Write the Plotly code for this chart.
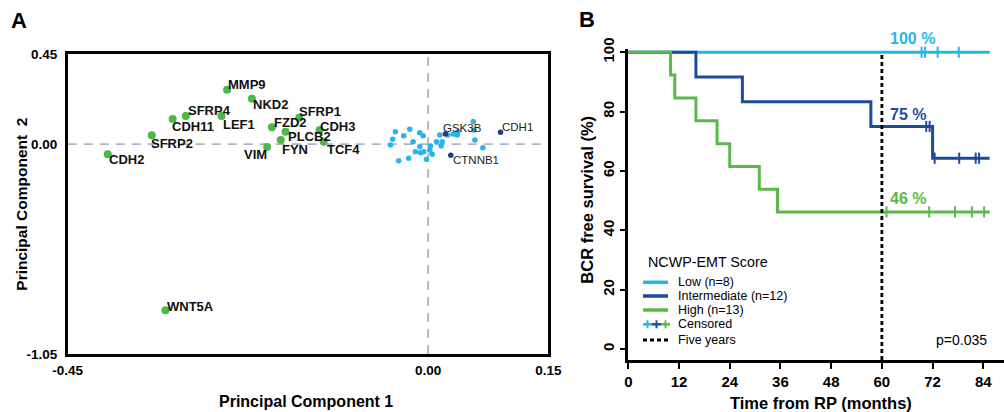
import plotly.graph_objects as go

# ---------------- Panel A data (PCA loadings) ----------------
green_genes = ["MMP9", "NKD2", "SFRP4", "CDH11", "LEF1", "SFRP2", "CDH2", "FZD2",
               "SFRP1", "PLCB2", "CDH3", "FYN", "TCF4", "VIM", "WNT5A"]
green_pc1 = [-0.251, -0.220, -0.3025, -0.319, -0.258, -0.345, -0.400, -0.195,
             -0.161, -0.178, -0.1355, -0.184, -0.1305, -0.201, -0.328]
green_pc2 = [0.273, 0.228, 0.141, 0.126, 0.141, 0.0445, -0.0506, 0.0846,
             0.1326, 0.0626, 0.071, 0.021, 0.0125, -0.014, -0.831]

light_pc1 = [-0.0409, -0.0305, -0.0230, -0.0105, -0.0063, -0.0443, -0.0471, -0.0188,
             -0.0105, 0.0029, 0.0104, 0.0145, 0.0175, 0.0163, 0.0313, 0.0363,
             0.0370, 0.0570, 0.0563, 0.0583, 0.0683, -0.0159, -0.0096, -0.0055,
             0.0020, -0.0243, -0.0368, -0.0021, 0.0050, 0.0245]
light_pc2 = [0.0626, 0.0425, 0.0746, 0.0576, 0.0425, 0.0245, -0.0040, 0.0125,
             -0.0125, -0.0090, 0.0125, 0.0460, 0.0125, -0.0090, 0.0511, 0.0460,
             0.0626, 0.0711, 0.1136, 0.0210, -0.0175, -0.0375, -0.0425, -0.0375,
             -0.0290, -0.0706, -0.0826, -0.0756, -0.0506, 0.0460]

dark_genes = ["GSK3B", "CDH1", "CTNNB1"]
dark_pc1 = [0.0216, 0.0904, 0.0283]
dark_pc2 = [0.051, 0.0596, -0.0556]

pca_xticks = [-0.45, 0.0, 0.15]
pca_xticklabels = ["-0.45", "0.00", "0.15"]
pca_yticks = [-1.05, 0.0, 0.45]
pca_yticklabels = ["-1.05", "0.00", "0.45"]

# ---------------- Panel B data (Kaplan-Meier) ----------------
low_t = [0, 85.5]
low_s = [100, 100]
low_cens = [69.4, 70.2, 73.2, 78.2]

int_t = [0, 16, 27, 57.4, 72, 85.5]
int_s = [100, 91.7, 83.3, 75, 64.3, 64.3]
int_cens = [70.5, 71.3, 72.5, 78.3, 82.2, 83.0]

high_t = [0, 10, 11, 16, 21, 24, 31, 35.3, 85.5]
high_s = [100, 92.3, 84.6, 76.9, 69.2, 61.5, 53.8, 46.2, 46.2]
high_cens = [61.1, 71.2, 77.3, 81.3, 84.2]

km_xticks = [0, 12, 24, 36, 48, 60, 72, 84]
km_yticks = [0, 20, 40, 60, 80, 100]
five_year = 60
five_year_labels = ["100 %", "75 %", "46 %"]

# ---------------- styles ----------------
FONT = "Liberation Sans, Arial, Helvetica, sans-serif"
C_LIGHT = "#25B5EC"
C_DARK = "#1E4C9C"
C_GREEN = "#5BB94B"
C_GREEN_DOT = "#4DB848"
C_DASH = "#A9B6C2"

W, H = 1004, 412

# label placement (pixel shifts relative to each point)
green_dx = [0, 0, 1, -2, 1, -2, 0, 1, -1, 1, -1, 0, 2, 1, 1]
green_dy = [5.5, -5.5, 6, -7.5, -8, -8, -5.5, 4.5, 6.5, -5, 3.5, -9, -8, -7.5, 3.5]
green_anchor = ["left"] * 13 + ["right", "left"]
dark_dx = [-3, 0, 1]
dark_dy = [6, 5, -5]


def px(x):
    return x / W


def py(y):
    return 1 - y / H


def surv_at(t, times, surv):
    v = surv[0]
    for ti, si in zip(times, surv):
        if ti <= t:
            v = si
    return v


fig = go.Figure()

# Panel A traces
fig.add_trace(go.Scatter(
    x=light_pc1, y=light_pc2, mode="markers", xaxis="x", yaxis="y",
    marker=dict(size=5.5, color=C_LIGHT), hoverinfo="skip"))
fig.add_trace(go.Scatter(
    x=dark_pc1, y=dark_pc2, mode="markers", xaxis="x", yaxis="y",
    marker=dict(size=5.5, color="#1F3C8F"), hoverinfo="skip"))
fig.add_trace(go.Scatter(
    x=green_pc1, y=green_pc2, mode="markers", xaxis="x", yaxis="y",
    marker=dict(size=8, color=C_GREEN_DOT), hoverinfo="skip"))

# Panel B traces
for t, s, cens, col in [(low_t, low_s, low_cens, C_LIGHT),
                        (int_t, int_s, int_cens, C_DARK),
                        (high_t, high_s, high_cens, C_GREEN)]:
    fig.add_trace(go.Scatter(
        x=t, y=s, mode="lines", line=dict(shape="hv", color=col, width=3),
        xaxis="x2", yaxis="y2", hoverinfo="skip"))
    fig.add_trace(go.Scatter(
        x=cens, y=[surv_at(c, t, s) for c in cens], mode="markers",
        marker=dict(symbol="line-ns-open", size=8, color=col,
                    line=dict(width=2, color=col)),
        xaxis="x2", yaxis="y2", hoverinfo="skip", cliponaxis=False))

shapes = []
# Panel A zero lines
shapes.append(dict(type="line", xref="x", yref="y", x0=-0.45, x1=0.15, y0=0, y1=0,
                   line=dict(color=C_DASH, width=1.8, dash="9px,7px"), layer="below"))
shapes.append(dict(type="line", xref="x", yref="y", x0=0, x1=0, y0=-1.05, y1=0.45,
                   line=dict(color=C_DASH, width=1.8, dash="9px,7px"), layer="below"))
# Five-year line
shapes.append(dict(type="line", xref="x2", yref="y2", x0=five_year, x1=five_year,
                   y0=-3.7, y1=100, line=dict(color="black", width=2.8, dash="4px,3px"),
                   layer="above"))

# Legend (manual)
leg_rows = [282.3, 296, 310, 324.3, 340]
for yy, col in zip(leg_rows[:3], [C_LIGHT, C_DARK, C_GREEN]):
    shapes.append(dict(type="line", xref="paper", yref="paper", x0=px(643), x1=px(668),
                       y0=py(yy), y1=py(yy), line=dict(color=col, width=3.5)))
for (xa, xb), col in zip([(643, 652), (652, 661), (661, 670)], [C_LIGHT, C_DARK, C_GREEN]):
    shapes.append(dict(type="line", xref="paper", yref="paper", x0=px(xa), x1=px(xb),
                       y0=py(leg_rows[3]), y1=py(leg_rows[3]), line=dict(color=col, width=2.5)))
    xm = (xa + xb) / 2
    shapes.append(dict(type="line", xref="paper", yref="paper", x0=px(xm), x1=px(xm),
                       y0=py(leg_rows[3] - 4), y1=py(leg_rows[3] + 4),
                       line=dict(color=col, width=2)))
shapes.append(dict(type="line", xref="paper", yref="paper", x0=px(643), x1=px(668),
                   y0=py(leg_rows[4]), y1=py(leg_rows[4]),
                   line=dict(color="black", width=3, dash="4px,3px")))

annotations = []

# Gene labels (panel A)
for g, x, y, dx, dy, anc in zip(green_genes, green_pc1, green_pc2, green_dx, green_dy, green_anchor):
    annotations.append(dict(
        text=g, x=x, y=y, xref="x", yref="y", showarrow=False, xanchor=anc,
        yanchor="middle", xshift=dx, yshift=dy, borderpad=0,
        font=dict(family=FONT, size=13, color="#111111", weight="bold")))
for g, x, y, dx, dy in zip(dark_genes, dark_pc1, dark_pc2, dark_dx, dark_dy):
    annotations.append(dict(
        text=g, x=x, y=y, xref="x", yref="y", showarrow=False, xanchor="left",
        yanchor="middle", xshift=dx, yshift=dy, borderpad=0,
        font=dict(family=FONT, size=11.5, color="#222222")))


def ann(text, x, y, size, bold=False, color="black", xanchor="center", angle=0):
    annotations.append(dict(
        text=text, x=px(x), y=py(y), xref="paper", yref="paper", showarrow=False,
        xanchor=xanchor, yanchor="middle", textangle=angle,
        font=dict(family=FONT, size=size, color=color, weight="bold" if bold else "normal")))


ann("A", 19, 21, 22, bold=True)
ann("B", 587, 20, 22, bold=True)
ann("Principal Component 1", 306, 401, 16, bold=True)
ann("Principal Component  2", 20.7, 204, 15.5, bold=True, angle=-90)
ann("BCR free survival (%)", 586.7, 200, 16.5, bold=True, angle=-90)
ann("Time from RP (months)", 821, 403, 16.5, bold=True)
ann("NCWP-EMT Score", 646, 262.3, 14.3, xanchor="left")
for yy, lab in zip(leg_rows, ["Low (n=8)", "Intermediate (n=12)", "High (n=13)",
                              "Censored", "Five years"]):
    ann(lab, 676, yy, 12.5, xanchor="left")
ann("p=0.035", 961, 340, 14)

# Percent labels at five years
for lab, yy, col in zip(five_year_labels, [39, 114, 198.3], [C_LIGHT, C_DARK, C_GREEN]):
    ann(lab, 888, yy, 16, bold=True, color=col, xanchor="left")

fig.update_layout(
    width=W, height=H, margin=dict(l=0, r=0, t=0, b=0, autoexpand=False),
    paper_bgcolor="white", plot_bgcolor="white", showlegend=False,
    font=dict(family=FONT, color="black"),
    shapes=shapes, annotations=annotations,
    xaxis=dict(domain=[px(67.7), px(548.3)], range=[-0.45, 0.15], anchor="y",
               automargin=False,
               showline=True, linecolor="black", linewidth=2.5, mirror=True,
               showgrid=False, zeroline=False, tickvals=pca_xticks, ticktext=pca_xticklabels,
               ticks="", ticklabelstandoff=2,
               tickfont=dict(family=FONT, size=13.5, weight="bold", color="black")),
    yaxis=dict(domain=[py(354), py(54.3)], range=[-1.05, 0.45], anchor="x",
               automargin=False,
               showline=True, linecolor="black", linewidth=2.5, mirror=True,
               showgrid=False, zeroline=False, tickvals=pca_yticks, ticktext=pca_yticklabels,
               ticks="", ticklabelstandoff=5,
               tickfont=dict(family=FONT, size=13.5, weight="bold", color="black")),
    xaxis2=dict(domain=[px(628.3), 1.0], range=[0, 88.9], anchor="y2",
                automargin=False,
                showline=True, linecolor="black", linewidth=2.5,
                showgrid=False, zeroline=False, tickvals=km_xticks,
                ticks="outside", ticklen=6, tickwidth=2, tickcolor="black",
                tickfont=dict(family=FONT, size=15, weight="bold", color="black")),
    yaxis2=dict(domain=[py(360), py(49.3)], range=[-3.7, 101], anchor="x2",
                automargin=False,
                showline=True, linecolor="black", linewidth=2.5,
                showgrid=False, zeroline=False, tickvals=km_yticks, tickangle=-90,
                ticks="outside", ticklen=6, tickwidth=2, tickcolor="black",
                tickfont=dict(family=FONT, size=15, weight="bold", color="black")),
)

fig.write_html(
    "out.html",
    config={"displayModeBar": False},
    post_script="document.body.style.margin='0px';document.body.style.overflow='hidden';",
)
